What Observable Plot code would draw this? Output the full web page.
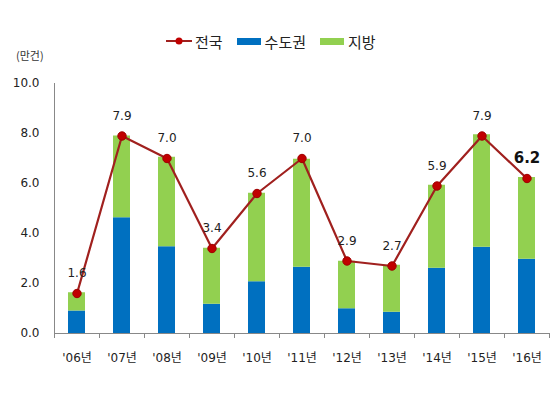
<!DOCTYPE html>
<html><head><meta charset="utf-8">
<script src="https://cdn.jsdelivr.net/npm/d3@7"></script>
<script src="https://cdn.jsdelivr.net/npm/@observablehq/plot@0.6"></script>
<style>
body{margin:0;background:#fff;font-family:"DejaVu Sans","Noto Sans CJK KR",sans-serif;}
#wrap{position:relative;width:559px;height:396px;}
#legend{position:absolute;left:166px;top:31px;height:20px;display:flex;align-items:center;font-family:"Noto Sans CJK KR",sans-serif;font-size:15px;color:#222;z-index:2;}
#legend .it{display:flex;align-items:center;margin-right:14px;}
#legend .sw{width:24px;height:7px;margin-right:4px;}
#unit{position:absolute;left:16px;top:47px;font-family:"Noto Sans CJK KR",sans-serif;font-size:11px;color:#333;z-index:2;}
#chart{position:absolute;left:0;top:52px;z-index:1;}
</style></head>
<body><div id="wrap">
<div id="chart"></div>
<div id="legend">
 <div class="it"><svg width="26" height="10" style="margin-right:3px"><line x1="0" y1="5" x2="26" y2="5" stroke="#A0201E" stroke-width="2"/><circle cx="13" cy="5" r="3.5" fill="#C00000"/></svg>전국</div>
 <div class="it"><div class="sw" style="background:#0070C0"></div>수도권</div>
 <div class="it"><div class="sw" style="background:#92D050"></div>지방</div>
</div>
<div id="unit">(만건)</div>
</div>
<script>
const years = ["'06년","'07년","'08년","'09년","'10년","'11년","'12년","'13년","'14년","'15년","'16년"];
const metro = [0.90,4.63,3.47,1.17,2.07,2.65,0.99,0.85,2.61,3.45,2.97];
const local = [0.73,3.27,3.58,2.24,3.54,4.32,1.90,1.88,3.32,4.50,3.27];
const national = [1.6,7.9,7.0,3.4,5.6,7.0,2.9,2.7,5.9,7.9,6.2];
const yTicks = [0,2,4,6,8,10];

const bars = [];
years.forEach((y,i)=>{
  bars.push({year:y, region:"수도권", value:metro[i]});
  bars.push({year:y, region:"지방", value:local[i]});
});
const line = years.map((y,i)=>({year:y, value:national[i], last: i===years.length-1}));

const W = 559, H = 344, mL = 54, mR = 10;
const step = (W - mL - mR) / years.length;

const plot = Plot.plot({
  width: W, height: H,
  marginLeft: mL, marginRight: mR, marginTop: 31, marginBottom: 63,
  style: {fontFamily: '"DejaVu Sans","Noto Sans CJK KR",sans-serif', background: "white"},
  x: {domain: years, paddingInner: 0.62, paddingOuter: 0.31, label: null, axis: null},
  y: {domain: [0,10], label: null, axis: null},
  color: {domain: ["수도권","지방"], range: ["#0070C0","#92D050"]},
  marks: [
    Plot.barY(bars, {x:"year", y:"value", fill:"region", order: ["수도권","지방"]}),
    Plot.axisY({ticks: yTicks, tickFormat: d3.format(".1f"), tickSize: 0, tickPadding: 15, fontSize: 12, color:"#222", label:null}),
    Plot.ruleX([years[0]], {dx: -step/2, y1: 0, y2: 10, stroke: "#888"}),
    Plot.ruleY([0], {stroke: "#888"}),
    Plot.ruleX(years, {dx: -step/2, y1: 0, y2: -0.2, stroke: "#888"}),
    Plot.ruleX([years[years.length-1]], {dx: step/2, y1: 0, y2: -0.2, stroke: "#888"}),
    Plot.text(years, {x: d=>d, y: 0, dy: 25, fontSize: 12, fill: "#222", fontFamily: '"DejaVu Sans","Noto Sans CJK KR",sans-serif'}),
    Plot.line(line, {x:"year", y:"value", stroke:"#A0201E", strokeWidth: 2.2}),
    Plot.dot(line, {x:"year", y:"value", r: 4.2, fill:"#C00000", stroke:"#A00000", strokeWidth: 1}),
    Plot.text(line.filter(d=>!d.last), {x:"year", y:"value", text: d=>d.value.toFixed(1), dy: -20, fontSize: 12, fill:"#222"}),
    Plot.text(line.filter(d=>d.last), {x:"year", y:"value", text: d=>d.value.toFixed(1), dy: -20, fontSize: 15, fontWeight: "bold", fill:"#111"})
  ]
});
document.getElementById("chart").appendChild(plot);
</script>
</body></html>
